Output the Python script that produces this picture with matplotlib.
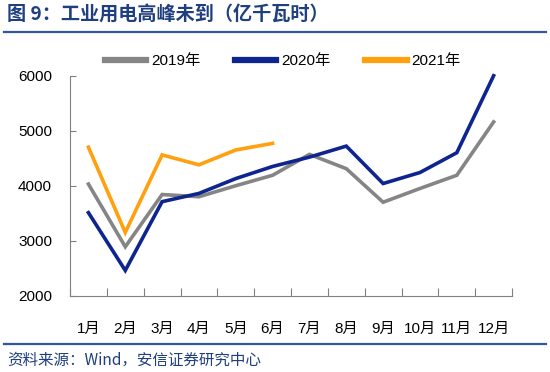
import matplotlib
matplotlib.use("Agg")
import matplotlib.pyplot as plt
from matplotlib.lines import Line2D

plt.rcParams['font.family'] = ['Liberation Sans', 'Noto Sans CJK SC', 'DejaVu Sans']

months = ['1月', '2月', '3月', '4月', '5月', '6月', '7月', '8月', '9月', '10月', '11月', '12月']
s2019 = [4030, 2890, 3840, 3800, 4000, 4190, 4570, 4310, 3700, 3950, 4190, 5160]
s2020 = [3510, 2460, 3710, 3860, 4130, 4350, 4520, 4720, 4040, 4240, 4600, 6000]
s2021 = [4700, 3150, 4560, 4380, 4650, 4770]
labels = ['2019年', '2020年', '2021年']
colors = ['#858585', '#0E2590', '#FFA00E']

fig = plt.figure(figsize=(5.5, 3.72), dpi=100)
ax = fig.add_axes([0.1273, 0.205, 0.931 - 0.1273, 0.7965 - 0.205])

x = list(range(len(months)))
for data, c, lab in zip([s2019, s2020, s2021], colors, labels):
    ax.plot(x[:len(data)], data, color=c, lw=2.6, label=lab, solid_joinstyle='miter', clip_on=False)

ax.set_xlim(-0.5, 11.5)
ax.set_ylim(2000, 6000)
ax.set_yticks([2000, 3000, 4000, 5000, 6000])
ax.set_xticks([i + 0.5 for i in range(-1, 12)], minor=False)
ax.set_xticklabels([])
ax.set_xticks(x, minor=True)
ax.set_xticklabels(months, minor=True, fontsize=11)
ax.tick_params(axis='x', which='major', direction='in', length=6, color='#808080', width=0.8)
ax.tick_params(axis='x', which='minor', length=0, pad=19)
ax.tick_params(axis='y', direction='in', length=4, color='#808080', width=0.8, labelsize=11, pad=13)
for sp in ['top', 'right']:
    ax.spines[sp].set_visible(False)
for sp in ['left', 'bottom']:
    ax.spines[sp].set_color('#808080')
    ax.spines[sp].set_linewidth(0.8)

handles = [Line2D([0], [0], color=c, lw=4.5) for c in colors]
fig.legend(handles, labels, loc='center', bbox_to_anchor=(0.514, 0.835), ncol=3, frameon=False,
           fontsize=11, handlelength=2.7, handletextpad=0.3, columnspacing=2.3)

fig.text(0.013, 0.962, '图 9：工业用电高峰未到（亿千瓦时）', fontsize=13.8, fontweight='bold',
         color='#1F3F7F', va='center', ha='left', family=['Noto Sans CJK SC', 'DejaVu Sans'])
fig.add_artist(Line2D([0.007, 0.993], [0.914, 0.914], color='#2E57A0', lw=1.6))
fig.add_artist(Line2D([0.007, 0.993], [0.075, 0.075], color='#2E57A0', lw=1.6))
fig.text(0.013, 0.032, '资料来源：Wind，安信证券研究中心', fontsize=11.2, style='italic',
         color='#1F3F7F', va='center', ha='left', family=['Noto Sans CJK SC', 'DejaVu Sans'])

fig.savefig('out.png', dpi=100)
